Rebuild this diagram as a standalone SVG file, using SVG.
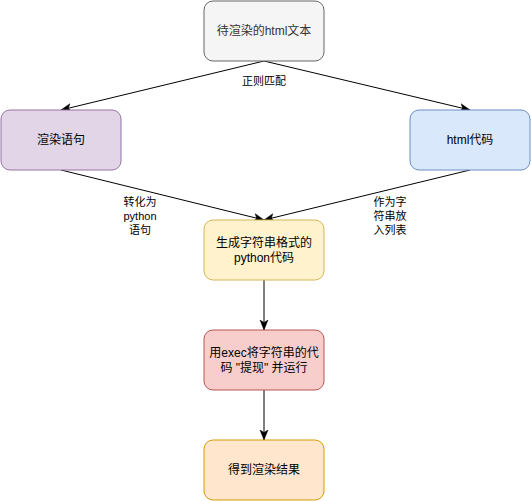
<svg xmlns="http://www.w3.org/2000/svg" width="531" height="501" viewBox="0 0 531 501">
<defs>
<style>
.t{font-family:"Liberation Sans","Noto Sans CJK SC",sans-serif;font-size:12px;fill:#000;text-anchor:middle;dominant-baseline:central}
.l{font-family:"Liberation Sans","Noto Sans CJK SC",sans-serif;font-size:11px;fill:#000;text-anchor:middle;dominant-baseline:central}
.e{fill:none;stroke:#000;stroke-width:1}
</style>
<marker id="ah" markerUnits="userSpaceOnUse" markerWidth="10" markerHeight="10" viewBox="0 0 10 10" refX="10" refY="5" orient="auto">
<path d="M0,1 L10,5 L0,9 L2.5,5 Z" fill="#000" stroke="#000" stroke-width="0.5"/>
</marker>
</defs>
<rect width="531" height="501" fill="#fff"/>
<g id="connectors">
<path class="e" d="M264,61 L61,110" marker-end="url(#ah)"/>
<path class="e" d="M264,61 L470,110" marker-end="url(#ah)"/>
<path class="e" d="M61,170 L264,220" marker-end="url(#ah)"/>
<path class="e" d="M470,170 L264,220" marker-end="url(#ah)"/>
<path class="e" d="M264,280 L264,330" marker-end="url(#ah)"/>
<path class="e" d="M264,390 L264,440" marker-end="url(#ah)"/>
<g id="edge-labels">
<rect x="238" y="73" width="52" height="16" fill="#fff"/>
<text class="l" x="264" y="81">正则匹配</text>
<text class="l" x="140" y="202">转化为</text>
<text class="l" x="140" y="216">python</text>
<text class="l" x="140" y="230">语句</text>
<text class="l" x="390" y="202">作为字</text>
<text class="l" x="390" y="216">符串放</text>
<text class="l" x="390" y="230">入列表</text>
</g>
</g>
<g id="n1">
<rect x="204" y="1" width="120" height="60" rx="9" fill="#f5f5f5" stroke="#666666"/>
<text class="t" x="264" y="31" style="fill:#333333">待渲染的html文本</text>
</g>
<g id="n2">
<rect x="1" y="110" width="120" height="60" rx="9" fill="#e1d5e7" stroke="#9673a6"/>
<text class="t" x="61" y="140">渲染语句</text>
</g>
<g id="n3">
<rect x="410" y="110" width="120" height="60" rx="9" fill="#dae8fc" stroke="#6c8ebf"/>
<text class="t" x="470" y="140">html代码</text>
</g>
<g id="n4">
<rect x="204" y="220" width="120" height="60" rx="9" fill="#fff2cc" stroke="#d6b656"/>
<text class="t" x="264" y="243">生成字符串格式的</text>
<text class="t" x="264" y="258">python代码</text>
</g>
<g id="n5">
<rect x="204" y="330" width="120" height="60" rx="9" fill="#f8cecc" stroke="#b85450"/>
<text class="t" x="264" y="353">用exec将字符串的代</text>
<text class="t" x="264" y="368">码 "提现" 并运行</text>
</g>
<g id="n6">
<rect x="204" y="440" width="120" height="60" rx="9" fill="#ffe6cc" stroke="#d79b00"/>
<text class="t" x="264" y="470">得到渲染结果</text>
</g>
</svg>
